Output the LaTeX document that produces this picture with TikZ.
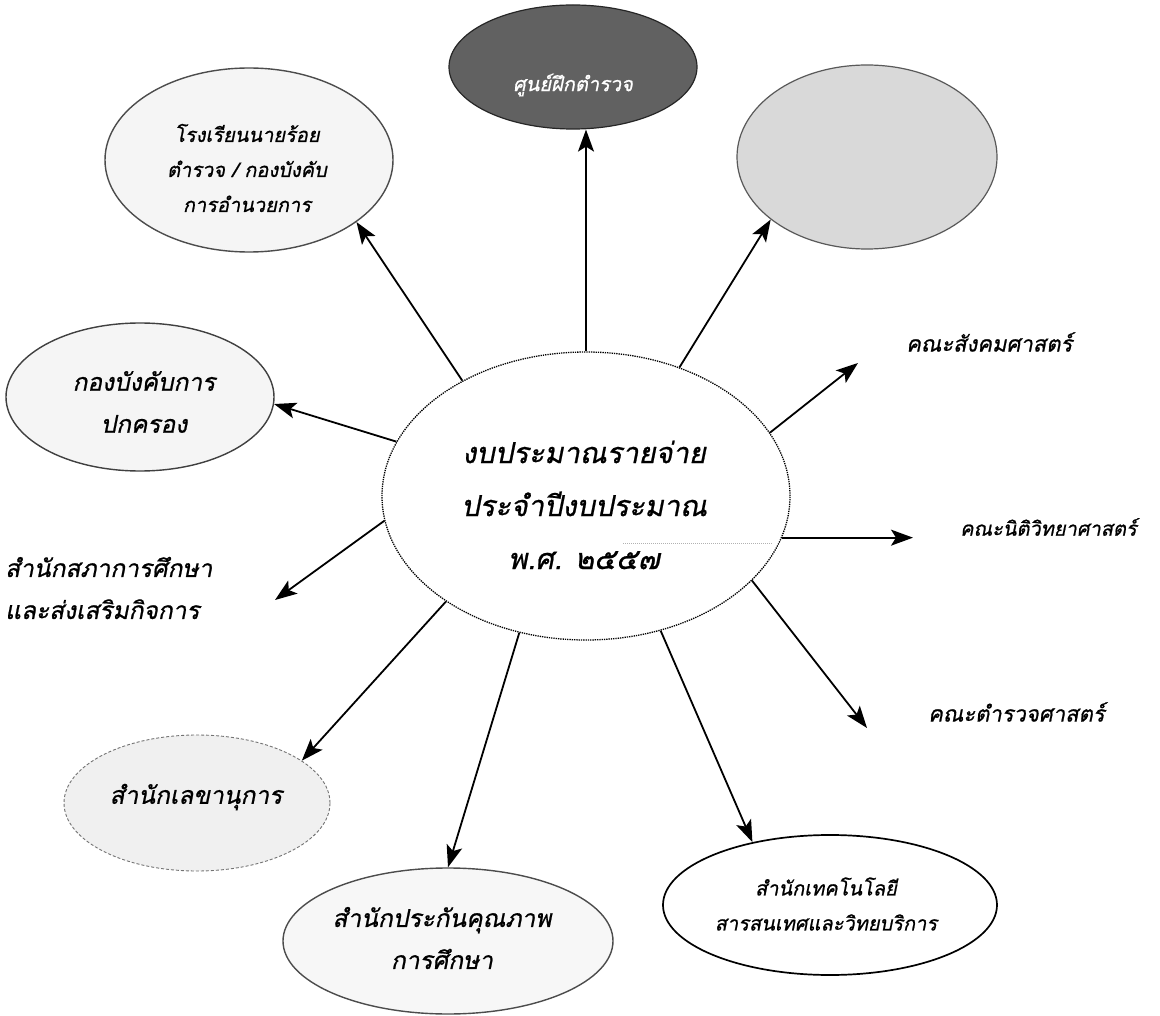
\documentclass[tikz,border=0pt]{standalone}
\usepackage{fontspec}
\newfontfamily\thai[Script=Thai,FakeSlant=0.2,FakeBold=0.8]{Loma}
\usetikzlibrary{arrows.meta,shapes.geometric}
\begin{document}
\begin{tikzpicture}[x=1pt,y=-1pt,
  arr/.style={-{Stealth[length=22pt,width=16pt,inset=5pt]},line width=1.8pt},
  oval/.style={ellipse,inner sep=0pt},
  bigtxt/.style={font=\thai\fontsize{24.5}{42}\selectfont,align=center,inner sep=0pt},
  sidetxt/.style={font=\thai\fontsize{22}{40}\selectfont,align=center,inner sep=0pt},
  smalltxt/.style={font=\thai\fontsize{20}{35}\selectfont,align=center,inner sep=0pt},
  centertxt/.style={font=\thai\fontsize{29}{53}\selectfont,align=center,inner sep=0pt}]
\useasboundingbox (0,0) rectangle (1160,1016);
\fill[white] (0,0) rectangle (1160,1016);

% central ellipse
\node[oval,draw=black,densely dotted,line width=1.3pt,minimum width=408pt,minimum height=288pt] (c) at (586,496) {};
\node[centertxt] (ct) at (584,505) {งบประมาณรายจ่าย\\ประจำปีงบประมาณ\\พ.ศ. ๒๕๕๗};
\draw[gray!60,densely dotted,line width=1pt] (623,543) -- (772,543);

% top dark ellipse
\node[oval,fill=black!62,draw=black!85,line width=1.2pt,minimum width=248pt,minimum height=124pt] (top) at (573,67) {};
\node[smalltxt,text=white] (topt) at (573,85) {ศูนย์ฝึกตำรวจ};

% top-left ellipse
\node[oval,fill=gray!8,draw=black!70,line width=1.4pt,minimum width=288pt,minimum height=184pt] (tl) at (249,160) {};
\node[smalltxt] (tlt) at (247,168) {โรงเรียนนายร้อย\\ตำรวจ / กองบังคับ\\การอำนวยการ};

% top-right ellipse
\node[oval,fill=gray!30,draw=black!65,line width=1.2pt,minimum width=260pt,minimum height=184pt] (tr) at (867,157) {};

% left ellipse
\node[oval,fill=gray!8,draw=black!75,line width=1.4pt,minimum width=268pt,minimum height=148pt] (gov) at (140,397) {};
\node[bigtxt] (govt) at (144,402) {กองบังคับการ\\ปกครอง};

% sapha text
\node[bigtxt,align=left,anchor=west] (sapha) at (5,588) {สำนักสภาการศึกษา\\และส่งเสริมกิจการ};

% secretary ellipse
\node[oval,fill=gray!12,draw=black!55,densely dashed,line width=0.9pt,minimum width=266pt,minimum height=136pt] (sec) at (197,803) {};
\node[bigtxt] (sect) at (196,797) {สำนักเลขานุการ};

% QA ellipse
\node[oval,fill=gray!6,draw=black!70,line width=1.4pt,minimum width=330pt,minimum height=146pt] (qa) at (448,941) {};
\node[bigtxt] (qat) at (442,938) {สำนักประกันคุณภาพ\\การศึกษา};

% tech ellipse
\node[oval,draw=black,line width=1.7pt,minimum width=334pt,minimum height=140pt] (tech) at (830,905) {};
\node[smalltxt] (techt) at (826,904) {สำนักเทคโนโลยี\\สารสนเทศและวิทยบริการ};

% right texts
\node[sidetxt,anchor=west] (soc) at (906,342) {คณะสังคมศาสตร์};
\node[smalltxt,anchor=west] (niti) at (960,527) {คณะนิติวิทยาศาสตร์};
\node[sidetxt,anchor=west] (pol) at (928,712) {คณะตำรวจศาสตร์};

\coordinate (socTip) at (858,363);
\coordinate (nitiTip) at (913,539);
\coordinate (polTip) at (867,728);
\coordinate (saphaTip) at (275,600);

% arrows
\draw[arr] (c.137) -- (tl.-30);
\draw[arr] (c.north) -- (c.north |- top.south);
\draw[arr] (c.54) -- (tr.-147);
\draw[arr] (c.19) -- (socTip);
\draw[arr] (c.-12) -- (c.-12 -| nitiTip);
\draw[arr] (c.-27) -- (polTip);
\draw[arr] (c.-61) -- (tech.141);
\draw[arr] (c.-116) -- (qa.north);
\draw[arr] (c.-143) -- (sec.22);
\draw[arr] (c.-173) -- (saphaTip);
\draw[arr] (c.164) -- (gov.-3);
\end{tikzpicture}
\end{document}
